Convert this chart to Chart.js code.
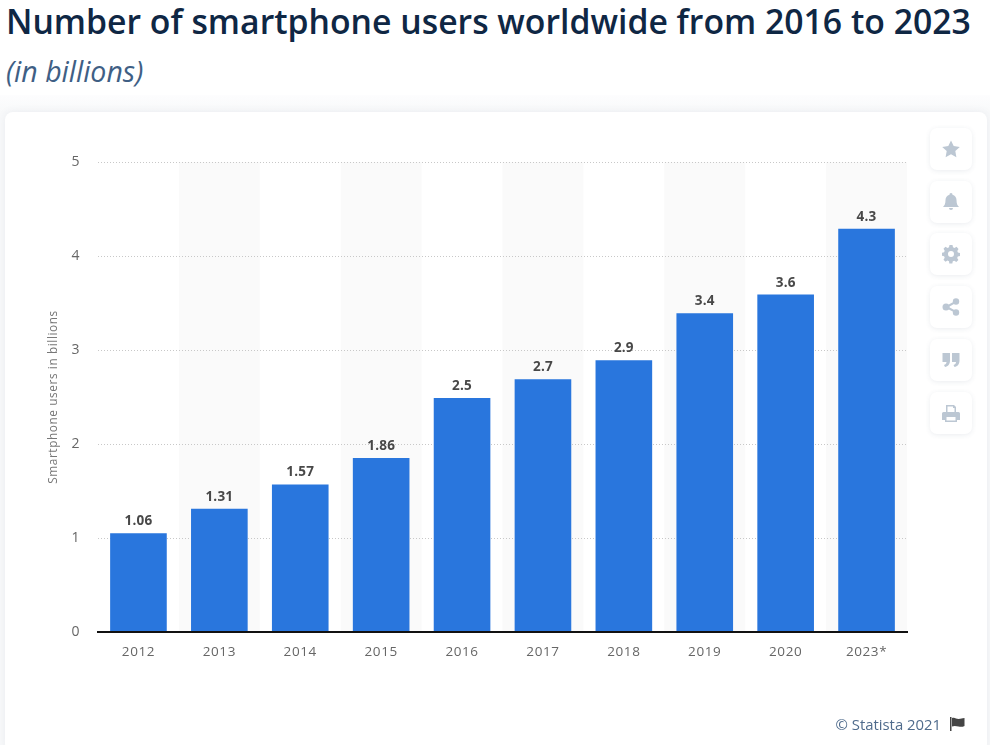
<!DOCTYPE html>
<html>
<head>
<meta charset="utf-8">
<script src="https://cdn.jsdelivr.net/npm/chart.js@4"></script>
<style>
html,body{margin:0;padding:0;width:990px;height:745px;overflow:hidden;background:#fff;font-family:"Open Sans",sans-serif}
#bg{position:absolute;left:0;top:95px;width:990px;height:650px;background:linear-gradient(#fdfdfe,#f8f9fa 17px)}
#card{position:absolute;left:5px;top:112px;width:982px;height:640px;background:#fff;border-radius:8px;box-shadow:0 0 8px rgba(60,80,110,.08)}
h1{position:absolute;left:6px;top:-3px;margin:0;font-size:33.75px;line-height:48px;font-weight:600;color:#0f2744;white-space:nowrap}
h2{position:absolute;left:6px;top:52px;margin:0;font-size:28.5px;line-height:38px;font-weight:400;font-style:italic;color:#3f5f85;white-space:nowrap}
#wrap{position:absolute;left:0;top:0;width:990px;height:745px}
.btn{position:absolute;left:930px;width:42px;height:42px;background:#fff;border-radius:7px;box-shadow:0 1px 5px rgba(60,80,110,.1)}
.btn svg{position:absolute;left:11px;top:11px;width:20px;height:20px;fill:#bcc7d3}
#credit{position:absolute;right:25px;top:714px;font-size:14.9px;color:#4f6b8c;white-space:nowrap}
#flag{position:absolute;left:949px;top:717px;width:16px;height:14px;fill:#444}
</style>
</head>
<body>
<div id="bg"></div>
<div id="card"></div>
<h1>Number of smartphone users worldwide from 2016 to 2023</h1>
<h2>(in billions)</h2>
<div id="wrap"><canvas id="chart" width="990" height="745"></canvas></div>

<div class="btn" style="top:128px"><svg viewBox="0 0 20 20"><path d="M10 1.5l2.7 5.6 6.1.8-4.5 4.2 1.1 6.1L10 15.300l-5.400 2.900 1.100-6.100L1.200 7.900l6.100-.8z"/></svg></div>
<div class="btn" style="top:181px"><svg viewBox="0 0 20 20"><path d="M10 1a1.500 1.500 0 0 1 1.500 1.700C14 3.400 15.500 5.600 15.500 8c0 4 1 5.500 2.500 7H2c1.500-1.500 2.500-3 2.500-7 0-2.400 1.500-4.600 4-5.300A1.500 1.500 0 0 1 10 1zM8 16h4a2 2 0 0 1-4 0z"/></svg></div>
<div class="btn" style="top:233px"><svg viewBox="0 0 20 20"><path fill-rule="evenodd" d="M8.500 2h3l.5 2.300 1.500.7 2-1.200 2 2.100-1.200 2 .6 1.500 2.100.5v3l-2.200.5-.6 1.500 1.200 2-2.100 2-2-1.200-1.500.6-.5 2.200h-3L8 18.200l-1.500-.6-2 1.200-2-2 1.200-2-.6-1.500L1 12.800v-3l2.100-.5.6-1.500-1.200-2 2-2.100 2 1.200L8 4.300zM10 8a3 3 0 1 0 0 6 3 3 0 0 0 0-6z" transform="translate(0 -1)"/></svg></div>
<div class="btn" style="top:286px"><svg viewBox="0 0 20 20"><circle cx="15" cy="4.500" r="3.200"/><circle cx="15" cy="15.500" r="3.200"/><circle cx="5" cy="10" r="3.500"/><path d="M5 9l10-5.500 1 1.700L6 11zM6 9l10 5.500-1 1.700L5 11z"/></svg></div>
<div class="btn" style="top:339px"><svg viewBox="0 0 20 20"><path d="M1.500 3h7.500v7.500c0 3.500-2 6-5 6.500l-1-2c1.500-.5 2.500-1.500 2.500-3H1.500zM11 3h7.500v7.500c0 3.500-2 6-5 6.500l-1-2c1.500-.5 2.500-1.500 2.500-3H11z"/></svg></div>
<div class="btn" style="top:392px"><svg viewBox="0 0 20 20"><path fill-rule="evenodd" d="M5 2h8l2 2v5h2.500A1.500 1.500 0 0 1 19 10.500V17h-3v2H4v-2H1v-6.500A1.500 1.500 0 0 1 2.500 9H5zm1.500 1.500V9h7V5h-1.500V3.500zM5.500 14v3.500h9V14z"/></svg></div>

<div id="credit">© Statista 2021 <span style="display:inline-block;width:20px"></span></div>
<svg id="flag" viewBox="0 0 16 14"><path d="M1 0h1.500v14H1zM3 1c3-1 4 1 6.500 1S13 1 15.500 1v8c-2 1-4 1-6 .5S5 8.500 3 9.500z"/></svg>

<script>
var categories = ['2012','2013','2014','2015','2016','2017','2018','2019','2020','2023*'];
var users = [1.05, 1.31, 1.57, 1.85, 2.49, 2.69, 2.89, 3.39, 3.59, 4.29];
var valueLabels = ['1.06','1.31','1.57','1.86','2.5','2.7','2.9','3.4','3.6','4.3'];
var yTicks = [0, 1, 2, 3, 4, 5];

// grey stripes behind every second category
var bands = {
    id:'bands',
    beforeDraw:function(c){
        var ctx = c.ctx, a = c.chartArea, w = a.width / categories.length;
        ctx.save();
        ctx.fillStyle = '#fafafa';
        categories.forEach(function(cat, i){
            if(i % 2 == 1){
                var x = c.scales.x.getPixelForValue(i);
                ctx.fillRect(x - w / 2, a.top, w, a.bottom - a.top);
            }
        });
        ctx.restore();
        ctx.letterSpacing = '0.6px';
    }
};

var barLabels = {
    id:'barLabels',
    afterDatasetsDraw:function(c){
        var ctx = c.ctx;
        ctx.save();
        ctx.font = '700 13.5px "Open Sans"';
        ctx.letterSpacing = '0.2px';
        ctx.fillStyle = '#484848';
        ctx.textAlign = 'center';
        ctx.textBaseline = 'alphabetic';
        c.getDatasetMeta(0).data.forEach(function(bar, i){
            ctx.fillText(valueLabels[i], bar.x, bar.y - 8);
        });
        ctx.restore();
    }
};

var chart = new Chart(document.getElementById('chart'), {
    type:'bar',
    data:{
        labels:categories,
        datasets:[{
            label:'Smartphone users in billions',
            data:users,
            backgroundColor:'#2976dd',
            categoryPercentage:0.7,
            barPercentage:1
        }]
    },
    options:{
        responsive:false,
        animation:false,
        layout:{padding:{left:47, right:83, top:162, bottom:0}},
        plugins:{legend:{display:false}, tooltip:{enabled:false}},
        scales:{
            x:{
                afterFit:function(s){ s.height = 113; },
                grid:{display:false, drawTicks:false},
                border:{display:true, color:'#111111', width:2, z:1},
                ticks:{color:'#666666', font:{family:'Open Sans', size:13.5}, padding:12, maxRotation:0}
            },
            y:{
                min:0,
                max:5,
                afterFit:function(s){ s.width = 51; },
                afterBuildTicks:function(s){ s.ticks = yTicks.map(function(v){ return {value:v}; }); },
                grid:{color:'#c8c8c8', drawTicks:false},
                border:{display:false, dash:[1,2]},
                title:{display:true, text:'Smartphone users in billions', color:'#777777', font:{family:'Open Sans', size:11.8}, padding:{top:0, bottom:0}},
                ticks:{color:'#666666', font:{family:'Open Sans', size:14}, padding:18}
            }
        }
    },
    plugins:[bands, barLabels]
});
</script>
</body>
</html>
